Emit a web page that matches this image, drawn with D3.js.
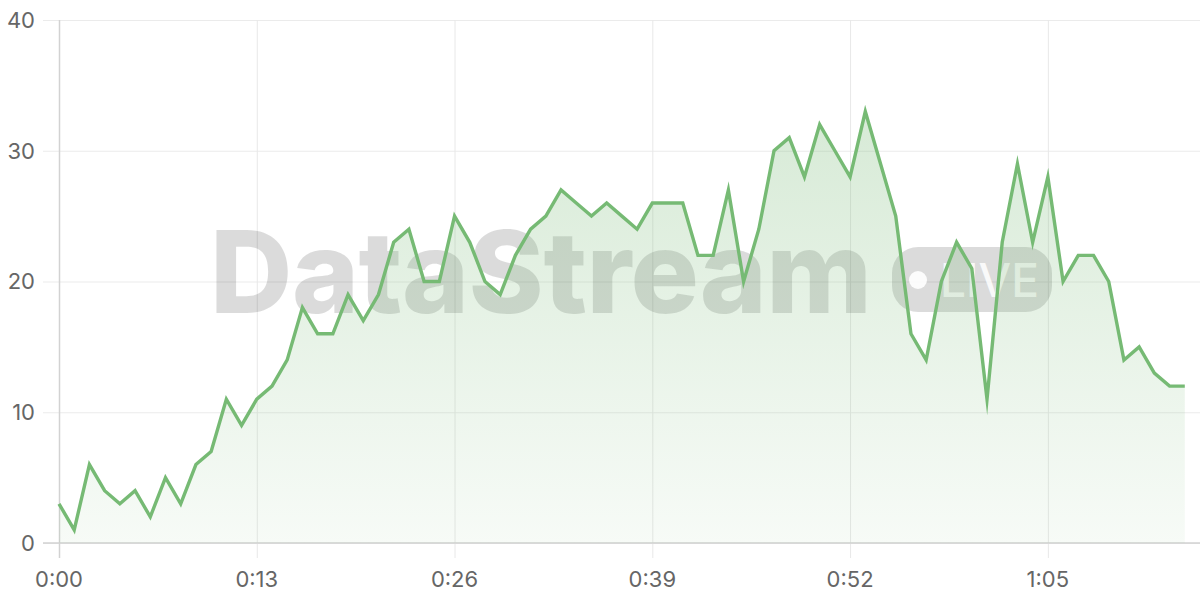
<!DOCTYPE html>
<html>
<head>
<meta charset="utf-8">
<script src="https://cdn.jsdelivr.net/npm/d3@7"></script>
<style>
  html, body { margin: 0; padding: 0; background: #fff; }
  svg { display: block; font-family: Inter, "Noto Sans", sans-serif; }
</style>
</head>
<body>
<div id="container"></div>
<script>
// data: one reading per second
const seconds = d3.range(0, 75);
const values = [3, 1, 6, 4, 3, 4, 2, 5, 3, 6,
  7, 11, 9, 11, 12, 14, 18, 16, 16, 19,
  17, 19, 23, 24, 20, 20, 25, 23, 20, 19,
  22, 24, 25, 27, 26, 25, 26, 25, 24, 26,
  26, 26, 22, 22, 27, 20, 24, 30, 31, 28,
  32, 30, 28, 33, 29, 25, 16, 14, 20, 23,
  21, 11, 23, 29, 23, 28, 20, 22, 22, 20,
  14, 15, 13, 12, 12];
const xTicks = [0, 13, 26, 39, 52, 65];
const yTicks = [0, 10, 20, 30, 40];

const width = 1200, height = 600,
  margin = { top: 20, right: 0, bottom: 57, left: 59 };

const data = seconds.map((s, i) => ({ t: s, v: values[i] }));

const svg = d3.select('#container')
  .append('svg')
  .attr('width', width)
  .attr('height', height);

const x = d3.scaleLinear().domain([0, 75]).range([margin.left, width - margin.right]);
const y = d3.scaleLinear().domain([0, 40]).range([height - margin.bottom, margin.top]);

const fmt = s => Math.floor(s / 60) + ':' + String(s % 60).padStart(2, '0');

// gradient for the area
const defs = svg.append('defs');
const grad = defs.append('linearGradient')
  .attr('id', 'fillGrad')
  .attr('x1', 0).attr('y1', 0).attr('x2', 0).attr('y2', 1);
grad.append('stop').attr('offset', '0%').attr('stop-color', '#7aba78').attr('stop-opacity', 0.3);
grad.append('stop').attr('offset', '100%').attr('stop-color', '#7aba78').attr('stop-opacity', 0.06);

// horizontal grid
svg.append('g')
  .attr('transform', `translate(${margin.left},0)`)
  .call(d3.axisLeft(y).tickValues(yTicks).tickSize(16).tickFormat(''))
  .call(g => g.select('.domain').remove())
  .call(g => g.selectAll('.tick line')
    .attr('x2', width - margin.left)
    .attr('x1', -16)
    .attr('stroke', '#ebebeb'));

// vertical grid
svg.append('g')
  .attr('transform', `translate(0,${margin.top})`)
  .call(d3.axisBottom(x).tickValues(xTicks).tickFormat(''))
  .call(g => g.select('.domain').remove())
  .call(g => g.selectAll('.tick line')
    .attr('y1', 0)
    .attr('y2', height - margin.bottom - margin.top + 15)
    .attr('stroke', d => d === 0 ? '#d2d2d2' : '#e8e8e8')
    .attr('stroke-width', d => d === 0 ? 1.5 : 1));

// bottom axis line
svg.append('line')
  .attr('x1', margin.left - 16).attr('x2', width)
  .attr('y1', y(0)).attr('y2', y(0))
  .attr('stroke', '#d2d2d2').attr('stroke-width', 1.5);

// tick labels
svg.append('g')
  .selectAll('text')
  .data(yTicks)
  .join('text')
  .attr('x', 35)
  .attr('y', d => y(d))
  .attr('dy', '0.36em')
  .attr('text-anchor', 'end')
  .attr('font-size', 22)
  .attr('fill', '#666')
  .text(d => d);

svg.append('g')
  .selectAll('text')
  .data(xTicks)
  .join('text')
  .attr('x', d => x(d))
  .attr('y', 587)
  .attr('text-anchor', 'middle')
  .attr('font-size', 22)
  .attr('fill', '#666')
  .text(d => fmt(d));

// watermark
const wm = svg.append('g').attr('fill', 'rgba(0,0,0,0.14)');
wm.append('text')
  .attr('x', 210)
  .attr('y', 313)
  .attr('font-size', 114)
  .attr('font-weight', 800)
  .attr('letter-spacing', -0.5)
  .text('DataStream');
wm.append('rect')
  .attr('x', 892).attr('y', 247)
  .attr('width', 160).attr('height', 65)
  .attr('rx', 26);
svg.append('circle')
  .attr('cx', 918).attr('cy', 280).attr('r', 9)
  .attr('fill', 'rgba(255,255,255,0.9)');
svg.append('text')
  .attr('x', 940).attr('y', 297)
  .attr('font-size', 46)
  .attr('font-weight', 500)
  .attr('fill', 'rgba(255,255,255,0.85)')
  .text('LIVE');

// area + line
const area = d3.area()
  .x(d => x(d.t))
  .y0(y(0))
  .y1(d => y(d.v));

const line = d3.line()
  .x(d => x(d.t))
  .y(d => y(d.v));

svg.append('path')
  .datum(data)
  .attr('d', area)
  .attr('fill', 'url(#fillGrad)');

svg.append('path')
  .datum(data)
  .attr('d', line)
  .attr('fill', 'none')
  .attr('stroke', '#76ba74')
  .attr('stroke-width', 3.4)
  .attr('stroke-linejoin', 'miter')
  .attr('stroke-miterlimit', 12);
</script>
</body>
</html>
